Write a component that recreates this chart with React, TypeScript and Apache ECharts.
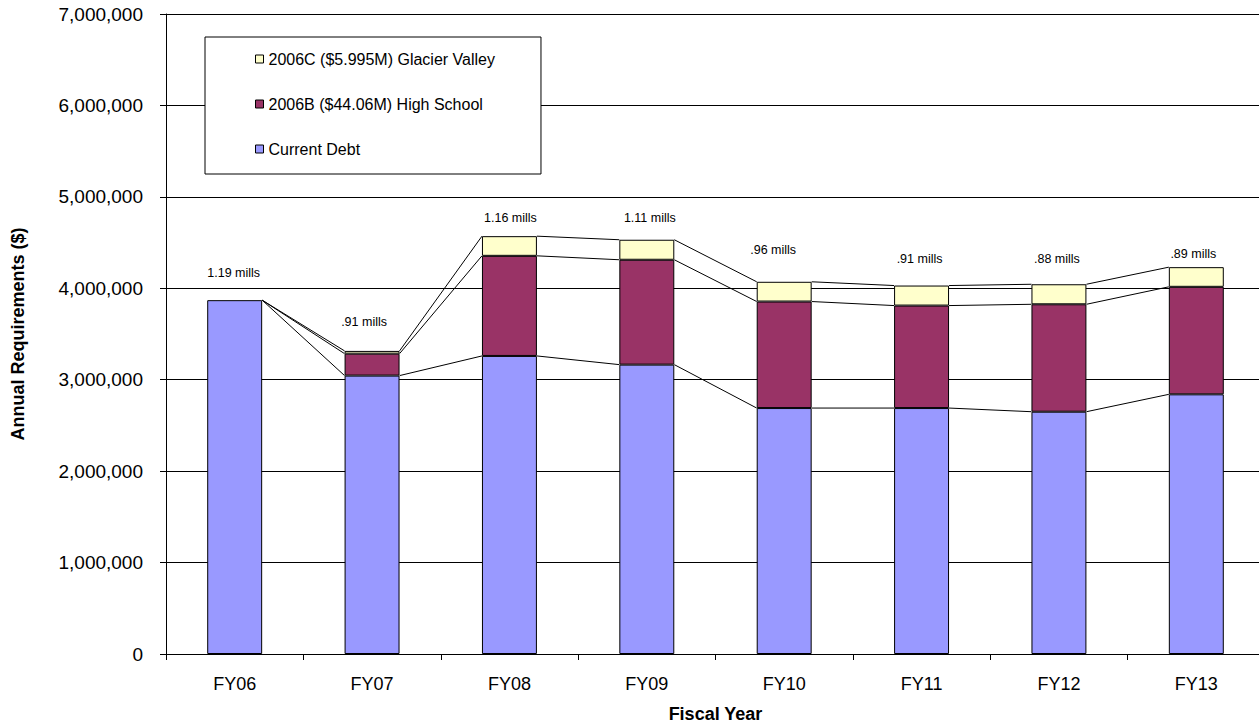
import React, { useEffect, useRef } from "react";
import * as echarts from "echarts";

// Fiscal years on the category axis
const fiscalYears = ["FY06", "FY07", "FY08", "FY09", "FY10", "FY11", "FY12", "FY13"];

// Annual debt service requirements ($)
const currentDebt = [3870000, 3045000, 3260000, 3165000, 2690000, 2690000, 2650000, 2840000];
const highSchool2006B = [0, 240000, 1095000, 1147000, 1165000, 1121000, 1175000, 1176000];
const glacierValley2006C = [0, 30000, 215000, 219000, 216000, 219000, 219000, 215000];

// Millage rate shown above each year's stack
const millsLabels = ["1.19 mills", ".91 mills", "1.16 mills", "1.11 mills", ".96 mills", ".91 mills", ".88 mills", ".89 mills"];

// Value-axis ticks
const yTicks = [0, 1000000, 2000000, 3000000, 4000000, 5000000, 6000000, 7000000];

const seriesNames = {
  current: "Current Debt",
  high: "2006B ($44.06M) High School",
  glacier: "2006C ($5.995M) Glacier Valley",
};

// Hand-placed nudges for the millage labels [dx, dy] in px
const millsNudge: [number, number][] = [
  [-1, -21], [-8, -22], [1, -12], [3, -15], [-11, -25], [-2, -20], [-2, -19], [-3, -7],
];

const FONT = 'Arial, "Liberation Sans", sans-serif';
const BAR_FRACTION = 0.4;

export default function App() {
  const ref = useRef<HTMLDivElement>(null);

  useEffect(() => {
    if (!ref.current) return;
    const chart = echarts.init(ref.current, undefined, { renderer: "svg" });

    // stack tops for each level, used by the connecting series lines
    const levels = fiscalYears.map((_, i) => [
      currentDebt[i],
      currentDebt[i] + highSchool2006B[i],
      currentDebt[i] + highSchool2006B[i] + glacierValley2006C[i],
    ]);

    const barStyle = (color: string) => ({ color, borderColor: "#000", borderWidth: 1 });
    // zero-height segments get no outline so they don't thicken the stack top
    const segment = (v: number) => (v === 0 ? { value: v, itemStyle: { borderWidth: 0 } } : v);

    chart.setOption({
      animation: false,
      textStyle: { fontFamily: FONT },
      grid: {
        left: 166,
        top: 14,
        right: -6,
        bottom: 71,
        containLabel: false,
        outerBoundsMode: "none",
      },
      legend: {
        orient: "vertical",
        left: 205,
        top: 37,
        data: [seriesNames.glacier, seriesNames.high, seriesNames.current],
        icon: "rect",
        itemWidth: 8,
        itemHeight: 8,
        itemGap: 29,
        padding: [14, 46, 17, 50],
        backgroundColor: "#fff",
        borderColor: "#000",
        borderWidth: 1,
        borderRadius: 0,
        itemStyle: { borderColor: "#000", borderWidth: 1 },
        textStyle: { fontSize: 16, color: "#000", fontFamily: FONT, lineHeight: 16 },
        selectedMode: false,
        z: 10,
      },
      xAxis: {
        type: "category",
        data: fiscalYears,
        name: "Fiscal Year",
        nameLocation: "middle",
        nameGap: 51,
        nameTextStyle: { fontSize: 18, fontWeight: "bold", color: "#000", fontFamily: FONT, lineHeight: 18 },
        axisLine: { lineStyle: { color: "#000", width: 1 } },
        axisTick: { show: true, length: 6, lineStyle: { color: "#000" } },
        axisLabel: { fontSize: 18, color: "#000", margin: 21, fontFamily: FONT },
        splitLine: { show: false },
      },
      yAxis: {
        type: "value",
        min: yTicks[0],
        max: yTicks[yTicks.length - 1],
        interval: yTicks[1] - yTicks[0],
        name: "Annual Requirements ($)",
        nameLocation: "middle",
        nameGap: 139,
        nameRotate: 90,
        nameTextStyle: { fontSize: 18, fontWeight: "bold", color: "#000", fontFamily: FONT },
        axisLine: { show: true, lineStyle: { color: "#000", width: 1 } },
        axisTick: { show: true, length: 6, lineStyle: { color: "#000" } },
        axisLabel: {
          fontSize: 19,
          color: "#000",
          margin: 23,
          fontFamily: FONT,
          formatter: (v: number) => v.toLocaleString("en-US"),
        },
        splitLine: { show: true, lineStyle: { color: "#000", width: 1 } },
      },
      series: [
        {
          name: seriesNames.current,
          type: "bar",
          stack: "debt",
          barWidth: `${BAR_FRACTION * 100}%`,
          itemStyle: barStyle("#9999FF"),
          data: currentDebt.map(segment),
        },
        {
          name: seriesNames.high,
          type: "bar",
          stack: "debt",
          itemStyle: barStyle("#993366"),
          data: highSchool2006B.map(segment),
        },
        {
          name: seriesNames.glacier,
          type: "bar",
          stack: "debt",
          itemStyle: barStyle("#FFFFCC"),
          label: {
            show: true,
            position: "top",
            distance: 0,
            fontSize: 12.5,
            color: "#000",
            fontFamily: FONT,
            formatter: (p: any) => millsLabels[p.dataIndex],
          },
          data: glacierValley2006C.map((v, i) => ({
            value: v,
            label: { offset: millsNudge[i] },
            itemStyle: v === 0 ? { borderWidth: 0 } : undefined,
          })),
        },
        {
          // series lines joining matching stack levels of neighbouring bars
          type: "custom",
          silent: true,
          z: 1,
          data: fiscalYears.slice(0, -1).map((_, i) => [i, levels[i][0]]),
          encode: { x: 0, y: 1 },
          renderItem: (params: any, api: any) => {
            const i = params.dataIndex;
            const band = api.size([1, 0])[0];
            const half = (band * BAR_FRACTION) / 2;
            const children = [0, 1, 2].map((k) => {
              const a = api.coord([i, levels[i][k]]);
              const b = api.coord([i + 1, levels[i + 1][k]]);
              return {
                type: "line",
                shape: { x1: a[0] + half, y1: a[1], x2: b[0] - half, y2: b[1] },
                style: { stroke: "#000", lineWidth: 1 },
              };
            });
            return { type: "group", children };
          },
        },
      ],
    });

    return () => chart.dispose();
  }, []);

  return (
    <div
      ref={ref}
      style={{ position: "absolute", left: 0, top: 0, width: 1259, height: 725, background: "#fff" }}
    />
  );
}
